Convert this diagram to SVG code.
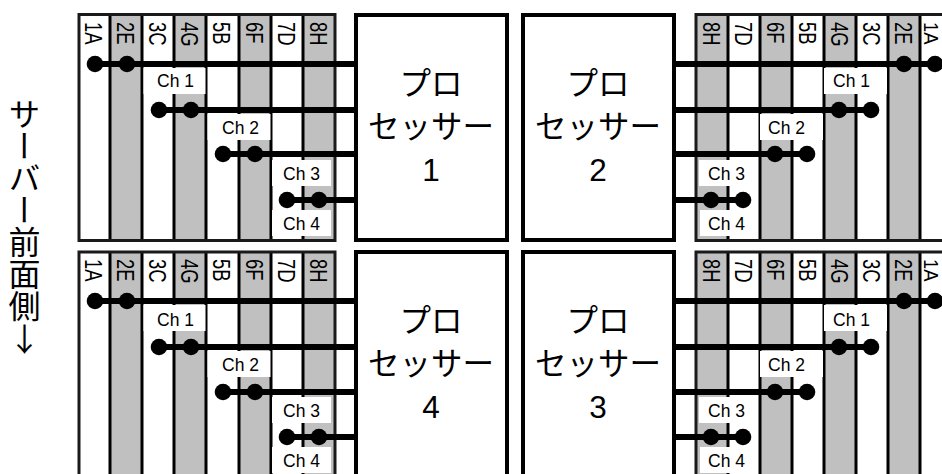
<svg xmlns="http://www.w3.org/2000/svg" width="942" height="474" viewBox="0 0 942 474">
<style>
.g{fill:#c0c0c0}
.f{fill:none;stroke:#1a1a1a;stroke-width:3}
.v{stroke:#000;stroke-width:3}
.w{fill:#fff}
.c{font:17.5px "Liberation Sans",Arial,sans-serif;fill:#000}
.m{font:23px "Liberation Sans",Arial,sans-serif;fill:#000}
.b{fill:#fff;stroke:#000;stroke-width:4}
.t{font:31.500px "Liberation Sans","Noto Sans CJK JP",sans-serif;fill:#000;text-anchor:middle}
.l{stroke:#000;stroke-width:6}
.d{fill:#000}
.s{font:32px "Noto Sans CJK JP",sans-serif;fill:#000;writing-mode:vertical-rl}
.a{font:32px "Noto Sans CJK JP",sans-serif;fill:#000;text-anchor:middle}
</style>
<rect width="942" height="474" fill="#fff"/>
<g id="side-label"><text class="s" x="24.500" y="98">サーバー前面側</text><text class="a" x="24.500" y="351">↓</text></g>

<g id="dimm-bank-1">
<rect class="g" x="110" y="14" width="32" height="227"/><rect class="g" x="174" y="14" width="32" height="227"/><rect class="g" x="239" y="14" width="32" height="227"/><rect class="g" x="303" y="14" width="32" height="227"/>
<path class="v" d="M110 14V241M142 14V241M174 14V241M206 14V241M239 14V241M271 14V241M303 14V241"/>
<rect class="f" x="79" y="14.5" width="256" height="226"/>
<text class="m" transform="translate(85,22) rotate(90) scale(.8,1)">1A</text><text class="m" transform="translate(117,22) rotate(90) scale(.8,1)">2E</text><text class="m" transform="translate(149,22) rotate(90) scale(.8,1)">3C</text><text class="m" transform="translate(181,22) rotate(90) scale(.8,1)">4G</text><text class="m" transform="translate(213,22) rotate(90) scale(.8,1)">5B</text><text class="m" transform="translate(246,22) rotate(90) scale(.8,1)">6F</text><text class="m" transform="translate(278,22) rotate(90) scale(.8,1)">7D</text><text class="m" transform="translate(310,22) rotate(90) scale(.8,1)">8H</text>
<rect class="w" x="143.500" y="68" width="62" height="26"/><text class="c" x="157" y="87">Ch 1</text>
<rect class="w" x="207.500" y="114" width="63" height="26"/><text class="c" x="222" y="134">Ch 2</text>
<rect class="w" x="272" y="160" width="59" height="26"/><text class="c" x="283" y="180">Ch 3</text>
<rect class="w" x="272" y="210" width="59" height="26"/><text class="c" x="283" y="230">Ch 4</text>
</g>

<g id="dimm-bank-2">
<rect class="g" x="696" y="14" width="32" height="227"/><rect class="g" x="760" y="14" width="32" height="227"/><rect class="g" x="824" y="14" width="32" height="227"/><rect class="g" x="888" y="14" width="32" height="227"/>
<path class="v" d="M728 14V241M760 14V241M792 14V241M824 14V241M856 14V241M888 14V241M920 14V241"/>
<rect class="f" x="696" y="14.500" width="260" height="226"/>
<text class="m" transform="translate(703,22) rotate(90) scale(.8,1)">8H</text><text class="m" transform="translate(735,22) rotate(90) scale(.8,1)">7D</text><text class="m" transform="translate(767,22) rotate(90) scale(.8,1)">6F</text><text class="m" transform="translate(799,22) rotate(90) scale(.8,1)">5B</text><text class="m" transform="translate(831,22) rotate(90) scale(.8,1)">4G</text><text class="m" transform="translate(863,22) rotate(90) scale(.8,1)">3C</text><text class="m" transform="translate(895,22) rotate(90) scale(.8,1)">2E</text><text class="m" transform="translate(923.500,22) rotate(90) scale(.8,.85)">1A</text>
<rect class="w" x="824" y="68" width="63" height="26"/><text class="c" x="833" y="87">Ch 1</text>
<rect class="w" x="760" y="114" width="63" height="26"/><text class="c" x="768" y="134">Ch 2</text>
<rect class="w" x="699" y="160" width="59" height="26"/><text class="c" x="708" y="180">Ch 3</text>
<rect class="w" x="700" y="210" width="58" height="26"/><text class="c" x="708" y="230">Ch 4</text>
</g>

<g id="dimm-bank-4">
<rect class="g" x="110" y="252" width="32" height="222"/><rect class="g" x="174" y="252" width="32" height="222"/><rect class="g" x="239" y="252" width="32" height="222"/><rect class="g" x="303" y="252" width="32" height="222"/>
<path class="v" d="M110 252V474M142 252V474M174 252V474M206 252V474M239 252V474M271 252V474M303 252V474"/>
<rect class="f" x="79" y="252" width="256" height="240"/>
<text class="m" transform="translate(85,259) rotate(90) scale(.8,1)">1A</text><text class="m" transform="translate(117,259) rotate(90) scale(.8,1)">2E</text><text class="m" transform="translate(149,259) rotate(90) scale(.8,1)">3C</text><text class="m" transform="translate(181,259) rotate(90) scale(.8,1)">4G</text><text class="m" transform="translate(213,259) rotate(90) scale(.8,1)">5B</text><text class="m" transform="translate(246,259) rotate(90) scale(.8,1)">6F</text><text class="m" transform="translate(278,259) rotate(90) scale(.8,1)">7D</text><text class="m" transform="translate(310,259) rotate(90) scale(.8,1)">8H</text>
<rect class="w" x="143.500" y="305" width="62" height="26"/><text class="c" x="157" y="326">Ch 1</text>
<rect class="w" x="207.500" y="351" width="63" height="26"/><text class="c" x="222" y="371">Ch 2</text>
<rect class="w" x="272" y="397" width="59" height="26"/><text class="c" x="283" y="417">Ch 3</text>
<rect class="w" x="272" y="447" width="59" height="26"/><text class="c" x="283" y="467">Ch 4</text>
</g>

<g id="dimm-bank-3">
<rect class="g" x="696" y="252" width="32" height="222"/><rect class="g" x="760" y="252" width="32" height="222"/><rect class="g" x="824" y="252" width="32" height="222"/><rect class="g" x="888" y="252" width="32" height="222"/>
<path class="v" d="M728 252V474M760 252V474M792 252V474M824 252V474M856 252V474M888 252V474M920 252V474"/>
<rect class="f" x="696" y="252" width="260" height="240"/>
<text class="m" transform="translate(703,259) rotate(90) scale(.8,1)">8H</text><text class="m" transform="translate(735,259) rotate(90) scale(.8,1)">7D</text><text class="m" transform="translate(767,259) rotate(90) scale(.8,1)">6F</text><text class="m" transform="translate(799,259) rotate(90) scale(.8,1)">5B</text><text class="m" transform="translate(831,259) rotate(90) scale(.8,1)">4G</text><text class="m" transform="translate(863,259) rotate(90) scale(.8,1)">3C</text><text class="m" transform="translate(895,259) rotate(90) scale(.8,1)">2E</text><text class="m" transform="translate(923.500,259) rotate(90) scale(.8,.85)">1A</text>
<rect class="w" x="824" y="305" width="63" height="26"/><text class="c" x="833" y="326">Ch 1</text>
<rect class="w" x="760" y="351" width="63" height="26"/><text class="c" x="768" y="371">Ch 2</text>
<rect class="w" x="699" y="397" width="59" height="26"/><text class="c" x="708" y="417">Ch 3</text>
<rect class="w" x="700" y="447" width="58" height="26"/><text class="c" x="708" y="467">Ch 4</text>
</g>

<g id="connectors">
<path class="l" d="M95 64H356M159 110H356M223 154H356M287 200H356M675 64H935M675 110H871M675 154H807M675 200H743M95 301H356M159 347H356M223 392H356M287 437H356M675 301H935M675 347H871M675 392H807M675 437H743"/>
<g class="d">
<circle cx="95" cy="64" r="8.300"/><circle cx="127" cy="64" r="8.300"/><circle cx="159" cy="110" r="8.300"/><circle cx="191" cy="110" r="8.300"/><circle cx="223" cy="154" r="8.300"/><circle cx="255" cy="154" r="8.300"/><circle cx="287" cy="200" r="8.300"/><circle cx="319" cy="200" r="8.300"/>
<circle cx="904" cy="64" r="8.300"/><circle cx="935" cy="64" r="8.300"/><circle cx="839" cy="110" r="8.300"/><circle cx="871" cy="110" r="8.300"/><circle cx="775" cy="154" r="8.300"/><circle cx="807" cy="154" r="8.300"/><circle cx="711" cy="200" r="8.300"/><circle cx="743" cy="200" r="8.300"/>
<circle cx="95" cy="301" r="8.300"/><circle cx="127" cy="301" r="8.300"/><circle cx="159" cy="347" r="8.300"/><circle cx="191" cy="347" r="8.300"/><circle cx="223" cy="392" r="8.300"/><circle cx="255" cy="392" r="8.300"/><circle cx="287" cy="437" r="8.300"/><circle cx="319" cy="437" r="8.300"/>
<circle cx="904" cy="301" r="8.300"/><circle cx="935" cy="301" r="8.300"/><circle cx="839" cy="347" r="8.300"/><circle cx="871" cy="347" r="8.300"/><circle cx="775" cy="392" r="8.300"/><circle cx="807" cy="392" r="8.300"/><circle cx="711" cy="437" r="8.300"/><circle cx="743" cy="437" r="8.300"/>
</g>
</g>

<g id="processor-1"><rect class="b" x="356" y="15" width="151" height="225"/><text class="t" x="431" y="95">プロ</text><text class="t" x="431" y="138">セッサー</text><text class="t" x="431" y="181">1</text></g>
<g id="processor-2"><rect class="b" x="523" y="15" width="151" height="225"/><text class="t" x="598" y="95">プロ</text><text class="t" x="598" y="138">セッサー</text><text class="t" x="598" y="181">2</text></g>
<g id="processor-4"><rect class="b" x="356" y="252" width="151" height="240"/><text class="t" x="431" y="332">プロ</text><text class="t" x="431" y="375">セッサー</text><text class="t" x="431" y="418">4</text></g>
<g id="processor-3"><rect class="b" x="523" y="252" width="151" height="240"/><text class="t" x="598" y="332">プロ</text><text class="t" x="598" y="375">セッサー</text><text class="t" x="598" y="418">3</text></g>
</svg>
